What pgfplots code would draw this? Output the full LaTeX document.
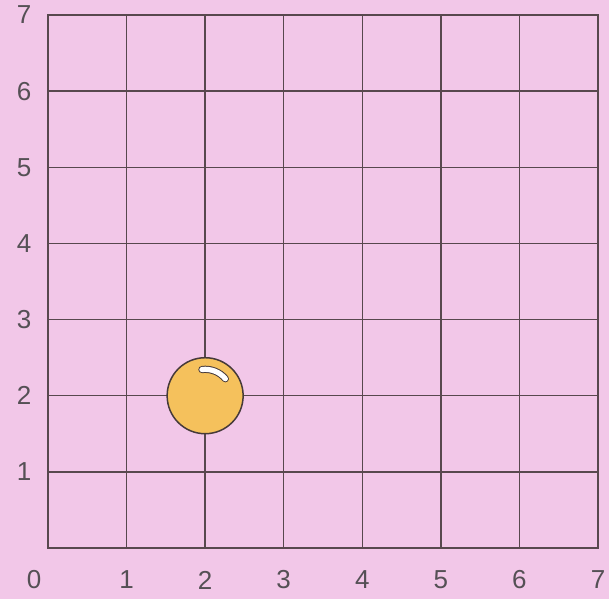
\documentclass[border=0pt]{standalone}
\usepackage{pgfplots}
\pgfplotsset{compat=1.18}
\usepackage{fontspec}
\setmainfont{Liberation Sans}
\definecolor{bgpink}{RGB}{242,199,232}
\definecolor{gridc}{RGB}{88,72,78}
\definecolor{ballc}{RGB}{245,193,92}
\definecolor{edgec}{RGB}{70,58,58}
\definecolor{labc}{RGB}{85,80,85}
\pgfdeclareplotmark{hl}{%
  \pgfsetroundcap
  \pgfpathmoveto{\pgfpointpolar{97}{13.2pt}}%
  \pgfpatharc{97}{40}{13.2pt}%
  \pgfsetlinewidth{3.6pt}\pgfsetstrokecolor{edgec}\pgfusepath{stroke}%
  \pgfpathmoveto{\pgfpointpolar{97}{13.2pt}}%
  \pgfpatharc{97}{40}{13.2pt}%
  \pgfsetlinewidth{2.6pt}\pgfsetstrokecolor{white}\pgfusepath{stroke}%
}
\pgfplotsset{common/.style={
  scale only axis, width=275pt, height=266.5pt,
  xmin=0, xmax=7, ymin=0, ymax=7, clip=false}}
\begin{document}
\begin{tikzpicture}
\fill[bgpink] (-24pt,-25.5pt) rectangle (280.5pt,274pt);
\useasboundingbox (-24pt,-25.5pt) rectangle (280.5pt,274pt);
\begin{axis}[
  common,
  xtick={1,...,7}, ytick={1,...,7},
  grid=major,
  major grid style={gridc, line width=0.75pt},
  axis line style={gridc, line width=0.75pt},
  major tick length=0pt,
  tick label style={font=\fontsize{13}{15}\selectfont, text=labc},
  /pgf/number format/assume math mode=true,
  xticklabel style={anchor=center, yshift=-16pt},
  yticklabel style={anchor=center, xshift=-12pt},
]
\node[font=\fontsize{13}{15}\selectfont, text=labc] at (axis cs:0,0) [xshift=-7pt, yshift=-16pt] {0};
\end{axis}
\begin{axis}[common, hide axis]
\addplot[only marks, mark=*, mark size=19pt, mark options={fill=ballc, draw=edgec, line width=0.75pt}] coordinates {(2,2)};
\addplot[only marks, mark=hl] coordinates {(2,2)};
\end{axis}
\end{tikzpicture}
\end{document}
